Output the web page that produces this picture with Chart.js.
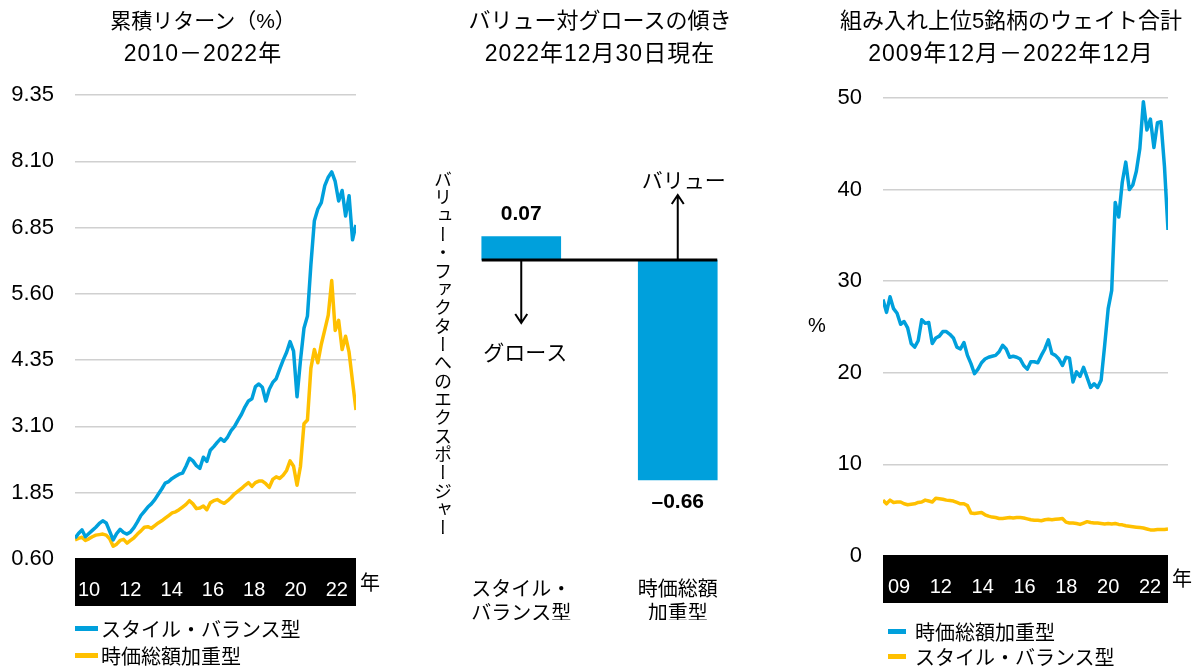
<!DOCTYPE html>
<html lang="ja">
<head>
<meta charset="utf-8">
<title>スタイル・バランス型と時価総額加重型</title>
<script src="https://cdn.jsdelivr.net/npm/chart.js@4.4.1/dist/chart.umd.min.js"></script>
<style>
  body { margin: 0; background: #fff; color: #000; font-family: "Liberation Sans", "Noto Sans CJK JP", sans-serif; }
  #wrap { position: relative; width: 1197px; height: 668px; overflow: hidden; }
  canvas { position: absolute; top: 0; }
  .title { position: absolute; top: 4px; transform: translateX(-50%); font-size: 22px; line-height: 33px; text-align: center; white-space: nowrap; }
  .title span { font-size: 23px; letter-spacing: 1px; }
  .note { position: absolute; font-size: 20px; line-height: 24px; white-space: nowrap; }
  .leg { position: absolute; height: 26px; display: flex; align-items: center; font-size: 20px; white-space: nowrap; }
  .leg i { display: inline-block; height: 5px; }
  #vt { position: absolute; left: 434px; top: 170px; writing-mode: vertical-rl; font-family: "Noto Sans CJK JP", sans-serif; font-size: 18px; line-height: 18px; letter-spacing: 0.35px; white-space: nowrap; }
</style>
</head>
<body>
<div id="wrap">
  <canvas id="c1" width="400" height="668" style="left:0"></canvas>
  <canvas id="c2" width="400" height="668" style="left:400px"></canvas>
  <canvas id="c3" width="397" height="668" style="left:800px"></canvas>

  <div class="title" style="left:203px;font-size:21px">累積リターン（%）<br><span>2010－2022年</span></div>
  <div class="title" style="left:600px">バリュー対グロースの傾き<br><span>2022年12月30日現在</span></div>
  <div class="title" style="left:1011px">組み入れ上位5銘柄のウェイト合計<br><span>2009年12月－2022年12月</span></div>

  <div class="note" style="left:360px;top:571px">年</div>
  <div class="note" style="left:1172px;top:567px">年</div>
  <div class="note" style="left:808px;top:313px">%</div>
  <div id="vt">バリュー・ファクターへのエクスポージャー</div>

  <div class="leg" style="left:75px;top:615px"><i style="width:23px;background:#00A0DC;margin-right:3px"></i>スタイル・バランス型</div>
  <div class="leg" style="left:75px;top:642px"><i style="width:23px;background:#FFC000;margin-right:3px"></i>時価総額加重型</div>
  <div class="leg" style="left:888px;top:618px"><i style="width:18px;background:#00A0DC;margin-right:9px"></i>時価総額加重型</div>
  <div class="leg" style="left:888px;top:643px"><i style="width:18px;background:#FFC000;margin-right:9px"></i>スタイル・バランス型</div>
</div>

<script>
const BLUE = "#00A0DC";
const YELLOW = "#FFC000";
Chart.defaults.font.family = '"Liberation Sans", "Noto Sans CJK JP", sans-serif';
Chart.defaults.color = "#000";

// left panel: cumulative return, about every two months
const retStart = 2009.32;
const retStep = 0.168;
const retYearTicks = [2010, 2012, 2014, 2016, 2018, 2020, 2022];
const retTickLabels = ["10", "12", "14", "16", "18", "20", "22"];
const retYTicks = [0.60, 1.85, 3.10, 4.35, 5.60, 6.85, 8.10, 9.35];
const retBalanced = [
  0.99, 1.08, 1.15, 1.02, 1.08, 1.14, 1.20, 1.27, 1.32, 1.28,
  1.12, 0.96, 1.08, 1.16, 1.10, 1.07, 1.11, 1.19, 1.30, 1.42,
  1.50, 1.58, 1.64, 1.72, 1.82, 1.92, 2.03, 2.06, 2.12, 2.16,
  2.20, 2.22, 2.35, 2.50, 2.45, 2.36, 2.31, 2.52, 2.44, 2.65,
  2.72, 2.80, 2.87, 2.82, 2.90, 3.02, 3.10, 3.22, 3.33, 3.47,
  3.58, 3.62, 3.85, 3.90, 3.84, 3.58, 3.80, 3.93, 4.00, 4.18,
  4.35, 4.50, 4.70, 4.52, 3.66, 4.35, 4.95, 5.18, 6.15, 6.98,
  7.20, 7.32, 7.64, 7.80, 7.90, 7.72, 7.35, 7.55, 7.07, 7.45,
  6.62, 6.90
];
const retCapWeighted = [
  0.96, 0.99, 1.01, 0.95, 0.98, 1.02, 1.05, 1.06, 1.07, 1.05,
  0.98, 0.84, 0.88, 0.95, 0.97, 0.90, 0.95, 1.00, 1.07, 1.13,
  1.20, 1.21, 1.18, 1.23, 1.28, 1.32, 1.37, 1.42, 1.47, 1.49,
  1.53, 1.58, 1.63, 1.70, 1.64, 1.55, 1.56, 1.60, 1.53, 1.66,
  1.70, 1.72, 1.68, 1.65, 1.70, 1.76, 1.83, 1.88, 1.93, 1.99,
  2.04, 1.97, 2.04, 2.07, 2.07, 2.02, 1.95, 2.10, 2.15, 2.12,
  2.18, 2.27, 2.45, 2.35, 1.99, 2.35, 3.15, 3.22, 4.20, 4.55,
  4.30, 4.65, 4.92, 5.20, 5.85, 4.91, 5.10, 4.55, 4.80, 4.50,
  3.95, 3.41
];

// middle panel: value vs growth tilt
const tiltNames = [["スタイル・", "バランス型"], ["時価総額", "加重型"]];
const tiltValues = [0.07, -0.66];
const tiltLabels = ["0.07", "–0.66"];
const valueText = "バリュー";
const growthText = "グロース";

// right panel: top-5 holdings weight (%)
const topStart = 2009.235;
const topStep = 0.1682;
const topYearTicks = [2010, 2012, 2014, 2016, 2018, 2020, 2022];
const topTickLabels = ["09", "12", "14", "16", "18", "20", "22"];
const topYTicks = [0, 10, 20, 30, 40, 50];
const topCapWeighted = [
  28.0, 26.6, 28.3, 27.0, 26.5, 25.3, 25.6, 24.9, 23.2, 22.8,
  23.5, 25.8, 25.4, 25.5, 23.2, 23.8, 24.0, 24.5, 24.5, 24.2,
  23.8, 22.8, 22.6, 23.3, 21.9, 21.0, 19.9, 20.4, 21.1, 21.5,
  21.7, 21.8, 21.9, 22.3, 23.0, 22.6, 21.7, 21.8, 21.7, 21.5,
  20.8, 20.4, 21.2, 21.2, 21.1, 21.9, 22.6, 23.6, 22.1, 21.9,
  21.5, 20.8, 21.7, 21.6, 19.0, 20.1, 19.6, 20.6, 19.5, 18.4,
  18.8, 18.4, 19.2, 23.0, 27.0, 29.0, 38.6, 37.0, 40.8, 43.0,
  40.0, 40.5, 42.0, 44.5, 49.6, 46.5, 47.7, 44.6, 47.3, 47.4,
  42.5, 35.6
];
const topBalanced = [
  6.1, 5.7, 6.1, 5.85, 5.9, 5.9, 5.7, 5.6, 5.65, 5.7,
  5.85, 5.9, 6.1, 6.0, 5.9, 6.3, 6.25, 6.2, 6.1, 6.05,
  6.0, 5.85, 5.7, 5.7, 5.5, 4.7, 4.65, 4.7, 4.75, 4.5,
  4.35, 4.25, 4.2, 4.1, 4.1, 4.15, 4.2, 4.15, 4.2, 4.2,
  4.15, 4.05, 3.95, 3.9, 3.9, 3.85, 3.95, 4.0, 3.95, 4.0,
  4.05, 4.1, 3.7, 3.6, 3.6, 3.55, 3.45, 3.6, 3.75, 3.65,
  3.6, 3.6, 3.55, 3.5, 3.55, 3.5, 3.55, 3.45, 3.4, 3.3,
  3.25, 3.2, 3.15, 3.1, 3.05, 2.95, 2.85, 2.85, 2.9, 2.9,
  2.9, 2.95
];

// black strip under the plot that carries the year labels
const bandPlugin = {
  id: "band",
  beforeDraw(chart) {
    const { ctx, chartArea } = chart;
    const xs = chart.scales.x;
    ctx.save();
    ctx.fillStyle = "#000";
    ctx.fillRect(chartArea.left, chartArea.bottom - 1, chartArea.right - chartArea.left, xs.bottom - chartArea.bottom + 1);
    ctx.restore();
  }
};

function makeLine(id, start, step, series, yTicks, yFmt, xTicks, xLabels, pad, yWidth) {
  const years = series[0].data.map((_, i) => start + i * step);
  return new Chart(document.getElementById(id), {
    type: "line",
    data: {
      labels: years,
      datasets: series.map(s => ({
        data: s.data,
        borderColor: s.color,
        borderWidth: 3.5,
        borderJoinStyle: "round",
        pointRadius: 0,
        tension: 0,
        fill: false
      }))
    },
    options: {
      responsive: false,
      animation: false,
      layout: { padding: pad },
      plugins: { legend: { display: false }, tooltip: { enabled: false } },
      scales: {
        x: {
          type: "linear",
          min: years[0],
          max: years[years.length - 1],
          grid: { display: false },
          border: { display: false },
          afterBuildTicks: s => { s.ticks = xTicks.map(v => ({ value: v })); },
          ticks: { callback: (v, i) => xLabels[i], color: "#fff", font: { size: 20 }, padding: 11, maxRotation: 0, autoSkip: false },
          afterFit: s => { s.height = 47; }
        },
        y: {
          min: yTicks[0],
          max: yTicks[yTicks.length - 1],
          afterBuildTicks: s => { s.ticks = yTicks.map(v => ({ value: v })); },
          grid: {
            color: c => (c.tick && c.tick.value === yTicks[0]) ? "rgba(0,0,0,0)" : "#d0d0d0",
            lineWidth: 1.5,
            drawTicks: false
          },
          border: { display: false },
          ticks: { callback: yFmt, color: "#000", font: { size: 22 }, padding: 21 },
          afterFit: s => { s.width = yWidth; }
        }
      }
    },
    plugins: [bandPlugin]
  });
}

makeLine("c1", retStart, retStep,
  [{ data: retBalanced, color: BLUE }, { data: retCapWeighted, color: YELLOW }],
  retYTicks, v => v.toFixed(2), retYearTicks, retTickLabels,
  { left: 0, top: 95, right: 44, bottom: 62 }, 75);

makeLine("c3", topStart, topStep,
  [{ data: topCapWeighted, color: BLUE }, { data: topBalanced, color: YELLOW }],
  topYTicks, v => String(v), topYearTicks, topTickLabels,
  { left: 0, top: 98, right: 29, bottom: 65 }, 83);

// middle bar chart with zero line, arrows and value labels
function arrow(ctx, x, y1, y2) {
  const dir = y2 > y1 ? 1 : -1;
  ctx.beginPath();
  ctx.moveTo(x, y1);
  ctx.lineTo(x, y2);
  ctx.moveTo(x - 6, y2 - dir * 9);
  ctx.lineTo(x, y2);
  ctx.lineTo(x + 6, y2 - dir * 9);
  ctx.stroke();
}

const tiltPlugin = {
  id: "tilt",
  afterDatasetsDraw(chart) {
    const ctx = chart.ctx;
    const bars = chart.getDatasetMeta(0).data;
    const y0 = chart.scales.y.getPixelForValue(0);
    ctx.save();
    ctx.strokeStyle = "#000";
    ctx.fillStyle = "#000";
    ctx.lineWidth = 3;
    ctx.beginPath();
    ctx.moveTo(bars[0].x - bars[0].width / 2, y0);
    ctx.lineTo(bars[1].x + bars[1].width / 2, y0);
    ctx.stroke();

    ctx.lineWidth = 2;
    arrow(ctx, bars[0].x, y0, y0 + 63);
    arrow(ctx, bars[1].x, y0, y0 - 65);

    ctx.textAlign = "center";
    ctx.textBaseline = "middle";
    ctx.font = 'bold 21px "Liberation Sans", sans-serif';
    bars.forEach((b, i) => {
      const y = tiltValues[i] >= 0 ? b.y - 22 : b.y + 22;
      ctx.fillText(tiltLabels[i], b.x, y);
    });
    ctx.font = '21px "Noto Sans CJK JP", sans-serif';
    ctx.fillText(growthText, bars[0].x + 4, y0 + 92);
    ctx.fillText(valueText, bars[1].x + 6, y0 - 80);
    ctx.restore();
  }
};

new Chart(document.getElementById("c2"), {
  type: "bar",
  data: {
    labels: tiltNames,
    datasets: [{ data: tiltValues, backgroundColor: BLUE, barThickness: 79 }]
  },
  options: {
    responsive: false,
    animation: false,
    layout: { padding: { left: 43, right: 44, top: 100, bottom: 48 } },
    plugins: { legend: { display: false }, tooltip: { enabled: false } },
    scales: {
      x: {
        grid: { display: false },
        border: { display: false },
        ticks: { color: "#000", font: { size: 20, family: '"Noto Sans CJK JP", sans-serif', lineHeight: 1.2 }, padding: 28, maxRotation: 0 },
        afterFit: s => { s.height = 80; }
      },
      y: { display: false, min: -0.84, max: 0.48 }
    }
  },
  plugins: [tiltPlugin]
});
</script>
</body>
</html>
